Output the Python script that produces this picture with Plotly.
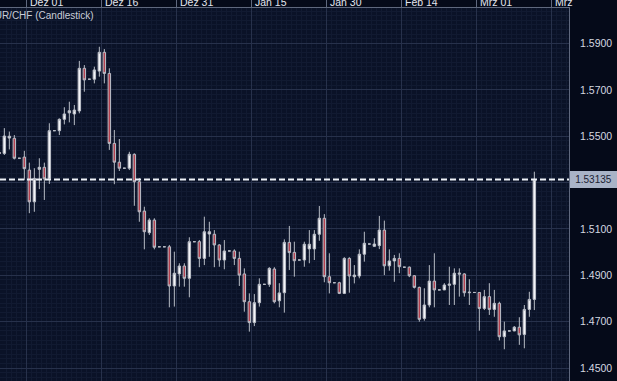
import pandas as pd
import plotly.graph_objects as go

# ---- data (EUR/CHF daily candles) ----
first_day = "2008-11-25 16:00"
last_day = "2009-03-12 16:00"

opens = [1.5430, 1.5426, 1.5492, 1.5491, 1.5405, 1.5410, 1.5354, 1.5217, 1.5357, 1.5366,
         1.5318, 1.5524, 1.5524, 1.5573, 1.5601, 1.5596, 1.5609, 1.5793, 1.5746, 1.5746,
         1.5781, 1.5862, 1.5771, 1.5469, 1.5388, 1.5362, 1.5362, 1.5422, 1.5304, 1.5177,
         1.5084, 1.5138, 1.5023, 1.5023, 1.5023, 1.4854, 1.4906, 1.4940, 1.4887, 1.5045,
         1.5045, 1.4973, 1.5078, 1.5077, 1.5031, 1.4966, 1.5005, 1.5005, 1.4973, 1.4906,
         1.4786, 1.4696, 1.4782, 1.4861, 1.4861, 1.4927, 1.4790, 1.4825, 1.5042, 1.4999,
         1.4966, 1.4966, 1.5014, 1.5014, 1.5077, 1.5146, 1.4894, 1.4868, 1.4868, 1.4822,
         1.4973, 1.4894, 1.4897, 1.4991, 1.5035, 1.5025, 1.5028, 1.5095, 1.4941, 1.4962,
         1.4973, 1.4935, 1.4935, 1.4898, 1.4848, 1.4714, 1.4772, 1.4875, 1.4837, 1.4837,
         1.4857, 1.4861, 1.4905, 1.4906, 1.4825, 1.4826, 1.4826, 1.4757, 1.4808, 1.4753,
         1.4779, 1.4635, 1.4660, 1.4660, 1.4676, 1.4645, 1.4753, 1.4796]
highs = [1.5432, 1.5535, 1.5520, 1.5505, 1.5405, 1.5437, 1.5386, 1.5362, 1.5405, 1.5386,
         1.5556, 1.5524, 1.5577, 1.5625, 1.5649, 1.5635, 1.5825, 1.5807, 1.5746, 1.5800,
         1.5886, 1.5876, 1.5793, 1.5527, 1.5488, 1.5362, 1.5433, 1.5426, 1.5319, 1.5196,
         1.5146, 1.5146, 1.5023, 1.5023, 1.5031, 1.5002, 1.4952, 1.4952, 1.5064, 1.5045,
         1.5052, 1.5153, 1.5131, 1.5095, 1.5034, 1.5052, 1.5005, 1.5012, 1.5002, 1.4930,
         1.4822, 1.4819, 1.4887, 1.4861, 1.4935, 1.4935, 1.4866, 1.5055, 1.5113, 1.5045,
         1.4966, 1.5045, 1.5095, 1.5095, 1.5199, 1.5164, 1.4995, 1.4868, 1.4872, 1.4978,
         1.4978, 1.4944, 1.5012, 1.5088, 1.5035, 1.5060, 1.5156, 1.5136, 1.5012, 1.4988,
         1.4995, 1.4935, 1.4938, 1.4901, 1.4851, 1.4844, 1.4944, 1.4995, 1.4837, 1.4866,
         1.4937, 1.4930, 1.4930, 1.4909, 1.4883, 1.4826, 1.4827, 1.4837, 1.4866, 1.4837,
         1.4786, 1.4700, 1.4660, 1.4681, 1.4719, 1.4772, 1.4829, 1.5347]
lows = [1.5424, 1.5419, 1.5443, 1.5400, 1.5405, 1.5310, 1.5168, 1.5174, 1.5272, 1.5225,
        1.5294, 1.5524, 1.5505, 1.5551, 1.5560, 1.5548, 1.5599, 1.5692, 1.5746, 1.5728,
        1.5757, 1.5728, 1.5441, 1.5293, 1.5350, 1.5362, 1.5354, 1.5200, 1.5131, 1.5012,
        1.5074, 1.5012, 1.5023, 1.5023, 1.4762, 1.4765, 1.4851, 1.4851, 1.4805, 1.5045,
        1.4935, 1.4944, 1.4980, 1.4935, 1.4937, 1.4926, 1.5005, 1.4944, 1.4854, 1.4743,
        1.4657, 1.4681, 1.4765, 1.4861, 1.4850, 1.4779, 1.4762, 1.4739, 1.4923, 1.4894,
        1.4966, 1.4937, 1.4952, 1.4966, 1.5049, 1.4870, 1.4822, 1.4868, 1.4819, 1.4819,
        1.4825, 1.4865, 1.4887, 1.4959, 1.5035, 1.5023, 1.5013, 1.4901, 1.4920, 1.4872,
        1.4909, 1.4935, 1.4892, 1.4843, 1.4700, 1.4704, 1.4762, 1.4762, 1.4837, 1.4836,
        1.4772, 1.4772, 1.4808, 1.4808, 1.4772, 1.4826, 1.4661, 1.4750, 1.4729, 1.4721,
        1.4619, 1.4581, 1.4660, 1.4659, 1.4600, 1.4585, 1.4721, 1.4750]
closes = [1.5426, 1.5501, 1.5500, 1.5405, 1.5405, 1.5360, 1.5217, 1.5318, 1.5366, 1.5316,
          1.5524, 1.5524, 1.5573, 1.5596, 1.5610, 1.5613, 1.5793, 1.5743, 1.5746, 1.5786,
          1.5862, 1.5771, 1.5469, 1.5388, 1.5362, 1.5362, 1.5422, 1.5304, 1.5174, 1.5088,
          1.5138, 1.5021, 1.5023, 1.5023, 1.4854, 1.4909, 1.4940, 1.4887, 1.5045, 1.5045,
          1.4973, 1.5088, 1.5088, 1.5031, 1.4966, 1.5005, 1.5005, 1.4973, 1.4901, 1.4786,
          1.4696, 1.4782, 1.4861, 1.4861, 1.4930, 1.4786, 1.4824, 1.5042, 1.4998, 1.4963,
          1.4966, 1.5034, 1.5034, 1.5077, 1.5146, 1.4894, 1.4868, 1.4868, 1.4822, 1.4973,
          1.4897, 1.4901, 1.4991, 1.5038, 1.5035, 1.5035, 1.5095, 1.4941, 1.4962, 1.4973,
          1.4937, 1.4935, 1.4898, 1.4848, 1.4710, 1.4772, 1.4875, 1.4837, 1.4837, 1.4858,
          1.4862, 1.4909, 1.4909, 1.4825, 1.4827, 1.4826, 1.4757, 1.4808, 1.4753, 1.4779,
          1.4635, 1.4660, 1.4660, 1.4676, 1.4643, 1.4753, 1.4796, 1.53135]

last_price = 1.53135
last_price_label = "1.53135"
title_text = "EUR/CHF (Candlestick)"

x_tick_dates = ["2008-12-01", "2008-12-16", "2008-12-31", "2009-01-15",
                "2009-01-30", "2009-02-14", "2009-03-01", "2009-03-16"]
x_tick_labels = ["Dez 01", "Dez 16", "Dez 31", "Jan 15", "Jan 30", "Feb 14", "Mrz 01", "Mrz"]

y_tick_vals = [1.45, 1.47, 1.49, 1.51, 1.53, 1.55, 1.57, 1.59]
y_tick_text = ["1.4500", "1.4700", "1.4900", "1.5100", "", "1.5500", "1.5700", "1.5900"]

# ---- figure ----
dates = pd.date_range(first_day, last_day, freq="D")

PLOT_BG = "#0a1227"
PAPER_BG = "#050a19"
MAJOR_GRID = "#27314b"
MINOR_GRID = "#111a31"
FRAME = "#5f687e"
WICK = "#b9bdc6"

fig = go.Figure(go.Candlestick(
    x=dates, open=opens, high=highs, low=lows, close=closes,
    increasing=dict(line=dict(color=WICK, width=1), fillcolor="#f4f5f8"),
    decreasing=dict(line=dict(color=WICK, width=1), fillcolor="#b5414f"),
    whiskerwidth=0, showlegend=False, hoverinfo="skip",
))

fig.add_shape(type="line", xref="paper", x0=0, x1=1, yref="y",
              y0=last_price, y1=last_price,
              line=dict(color="#eef1f7", width=2, dash="6px,3px"))

annotations = []
for d, t in zip(x_tick_dates, x_tick_labels):
    annotations.append(dict(x=d, xref="x", y=1.0161, yref="paper", text=t,
                            showarrow=False, xanchor="left", yanchor="middle",
                            xshift=2, font=dict(family="Liberation Sans, Arial", size=10.5,
                                                color="#e3e6ee")))
annotations.append(dict(x=96 / 569, xref="paper", y=0.981, yref="paper", text=title_text,
                        showarrow=False, xanchor="right", yanchor="middle",
                        font=dict(family="Liberation Sans, Arial", size=10, color="#c9cdd8")))
annotations.append(dict(x=1, xref="paper", y=last_price, yref="y", text=last_price_label,
                        showarrow=False, xanchor="left", yanchor="middle", xshift=1,
                        bgcolor="#a9b3c7", borderpad=0, borderwidth=0, width=47, height=17,
                        align="center",
                        font=dict(family="Liberation Sans, Arial", size=10, color="#1b2233")))

fig.update_layout(
    width=617, height=381,
    margin=dict(l=0, r=48, t=8, b=0, pad=0),
    paper_bgcolor=PAPER_BG, plot_bgcolor=PLOT_BG,
    showlegend=False, annotations=annotations,
    xaxis=dict(
        type="date", side="top",
        range=["2008-11-25 19:12", "2009-03-19 14:24"],
        tick0="2008-12-01", dtick=15 * 86400000,
        showticklabels=False, ticks="outside", ticklen=8, tickcolor=FRAME, tickwidth=1,
        showgrid=True, gridcolor=MAJOR_GRID, gridwidth=1,
        minor=dict(dtick=86400000, tick0="2008-12-01", showgrid=True,
                   gridcolor=MINOR_GRID, gridwidth=1, ticks=""),
        showline=True, linecolor=FRAME, linewidth=1,
        rangeslider=dict(visible=False), zeroline=False, fixedrange=True,
    ),
    yaxis=dict(
        side="right", range=[1.4444, 1.60532],
        tickmode="array", tickvals=y_tick_vals, ticktext=y_tick_text,
        ticks="", ticklabelstandoff=8,
        tickfont=dict(family="Liberation Sans, Arial", size=10.5, color="#d4d8e0"),
        showgrid=True, gridcolor=MAJOR_GRID, gridwidth=1,
        minor=dict(dtick=0.002, tick0=1.45, showgrid=True, gridcolor=MINOR_GRID,
                   gridwidth=1, ticks=""),
        showline=True, linecolor=FRAME, linewidth=1,
        zeroline=False, fixedrange=True,
    ),
)

fig.write_html(
    "out.html",
    config={"displayModeBar": False, "staticPlot": True},
    post_script="document.body.style.margin='0px';"
                "document.body.style.overflow='hidden';"
                "document.body.style.backgroundColor='#050a19';",
)
